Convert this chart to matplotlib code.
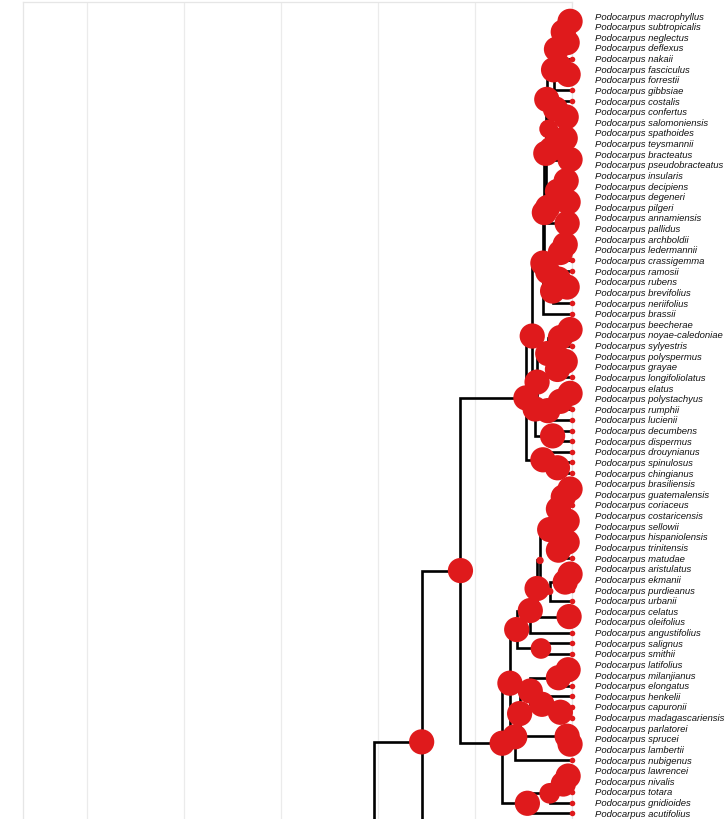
import matplotlib
matplotlib.use("Agg")
import matplotlib.pyplot as plt
from matplotlib.transforms import offset_copy

# tip order, top to bottom
tips = ["macrophyllus", "subtropicalis", "neglectus", "deflexus", "nakaii",
        "fasciculus", "forrestii", "gibbsiae", "costalis", "confertus",
        "salomoniensis", "spathoides", "teysmannii", "bracteatus",
        "pseudobracteatus", "insularis", "decipiens", "degeneri", "pilgeri",
        "annamiensis", "pallidus", "archboldii", "ledermannii", "crassigemma",
        "ramosii", "rubens", "brevifolius", "neriifolius", "brassii",
        "beecherae", "noyae-caledoniae", "sylyestris", "polyspermus", "grayae",
        "longifoliolatus", "elatus", "polystachyus", "rumphii", "lucienii",
        "decumbens", "dispermus", "drouynianus", "spinulosus", "chingianus",
        "brasiliensis", "guatemalensis", "coriaceus", "costaricensis",
        "sellowii", "hispaniolensis", "trinitensis", "matudae", "aristulatus",
        "ekmanii", "purdieanus", "urbanii", "celatus", "oleifolius",
        "angustifolius", "salignus", "smithii", "latifolius", "milanjianus",
        "elongatus", "henkelii", "capuronii", "madagascariensis", "parlatorei",
        "sprucei", "lambertii", "nubigenus", "lawrencei", "nivalis", "totara",
        "gnidioides", "acutifolius"]

# rest of the tree lies below the frame (row positions of those clades)
cut_rows = {"below_a": 84.4, "below_b": 100.0}

# clades (children), listed children-first
clade_kids = {
    "a01": ["macrophyllus", "subtropicalis"],
    "a23": ["neglectus", "deflexus"],
    "aA": ["a01", "a23"],
    "a56": ["fasciculus", "forrestii"],
    "aB": ["nakaii", "a56"],
    "a0_6": ["aA", "aB"],
    "a0_7": ["a0_6", "gibbsiae"],
    "a9_10": ["confertus", "salomoniensis"],
    "a8_10": ["costalis", "a9_10"],
    "a11_12": ["spathoides", "teysmannii"],
    "a13_14": ["bracteatus", "pseudobracteatus"],
    "a11_14": ["a11_12", "a13_14"],
    "a8_14": ["a8_10", "a11_14"],
    "a0_14": ["a0_7", "a8_14"],
    "a15_16": ["insularis", "decipiens"],
    "a17_18": ["degeneri", "pilgeri"],
    "a15_18": ["a15_16", "a17_18"],
    "a19_20": ["annamiensis", "pallidus"],
    "a15_20": ["a15_18", "a19_20"],
    "a0_20": ["a0_14", "a15_20"],
    "a21_22": ["archboldii", "ledermannii"],
    "a21_23": ["a21_22", "crassigemma"],
    "a25_26": ["rubens", "brevifolius"],
    "a24_26": ["ramosii", "a25_26"],
    "a24_27": ["a24_26", "neriifolius"],
    "a21_27": ["a21_23", "a24_27"],
    "aZ": ["a0_20", "a21_27"],
    "S1": ["aZ", "brassii"],
    "b29_30": ["beecherae", "noyae-caledoniae"],
    "b29_31": ["b29_30", "sylyestris"],
    "b32_33": ["polyspermus", "grayae"],
    "b32_34": ["b32_33", "longifoliolatus"],
    "b29_34": ["b29_31", "b32_34"],
    "b35_36": ["elatus", "polystachyus"],
    "b35_37": ["b35_36", "rumphii"],
    "b35_38": ["b35_37", "lucienii"],
    "b29_38": ["b29_34", "b35_38"],
    "b39_40": ["decumbens", "dispermus"],
    "b29_40": ["b29_38", "b39_40"],
    "N338": ["S1", "b29_40"],
    "b42_43": ["spinulosus", "chingianus"],
    "b41_43": ["drouynianus", "b42_43"],
    "N402": ["N338", "b41_43"],
    "c44_45": ["brasiliensis", "guatemalensis"],
    "c44_46": ["c44_45", "coriaceus"],
    "c47_48": ["costaricensis", "sellowii"],
    "c44_48": ["c44_46", "c47_48"],
    "c49_50": ["hispaniolensis", "trinitensis"],
    "c49_51": ["c49_50", "matudae"],
    "c44_51": ["c44_48", "c49_51"],
    "c52_53": ["aristulatus", "ekmanii"],
    "c52_54": ["c52_53", "purdieanus"],
    "c52_55": ["c52_54", "urbanii"],
    "c44_55": ["c44_51", "c52_55"],
    "c56_57": ["celatus", "oleifolius"],
    "c44_57": ["c44_55", "c56_57"],
    "c44_58": ["c44_57", "angustifolius"],
    "c59_60": ["salignus", "smithii"],
    "c44_60": ["c44_58", "c59_60"],
    "c61_62": ["latifolius", "milanjianus"],
    "c61_63": ["c61_62", "elongatus"],
    "c65_66": ["capuronii", "madagascariensis"],
    "c64_66": ["henkelii", "c65_66"],
    "c61_66": ["c61_63", "c64_66"],
    "c68_69": ["sprucei", "lambertii"],
    "c67_69": ["parlatorei", "c68_69"],
    "c61_69": ["c61_66", "c67_69"],
    "c61_70": ["c61_69", "nubigenus"],
    "c44_70": ["c44_60", "c61_70"],
    "d71_72": ["lawrencei", "nivalis"],
    "d71_73": ["d71_72", "totara"],
    "d71_74": ["d71_73", "gnidioides"],
    "d71_75": ["d71_74", "acutifolius"],
    "N743": ["c44_70", "d71_75"],
    "N573": ["N402", "N743"],
    "N422": ["N573", "below_a"],
    "N374": ["N422", "below_b"],
}

# node ages (Ma)
clade_age = {
    "a01": 0.2, "a23": 0.5, "aA": 0.9, "a56": 0.4, "aB": 1.3, "a0_6": 1.6,
    "a0_7": 1.9, "a9_10": 0.6, "a8_10": 1.7, "a11_12": 0.7, "a13_14": 0.2,
    "a11_14": 2.1, "a8_14": 2.4, "a0_14": 2.6, "a15_16": 0.6, "a17_18": 0.4,
    "a15_18": 1.5, "a19_20": 0.5, "a15_20": 2.5, "a0_20": 2.7,
    "a21_22": 0.7, "a21_23": 1.2, "a25_26": 0.5, "a24_26": 1.4,
    "a24_27": 2.0, "a21_27": 2.5, "aZ": 2.85, "S1": 3.0,
    "b29_30": 0.2, "b29_31": 1.2, "b32_33": 0.7, "b32_34": 1.5,
    "b29_34": 2.5, "b35_36": 0.2, "b35_37": 1.2, "b35_38": 2.5,
    "b29_38": 3.6, "b39_40": 2.0, "b29_40": 3.8, "N338": 4.1,
    "b42_43": 1.5, "b41_43": 3.0, "N402": 4.75,
    "c44_45": 0.2, "c44_46": 0.9, "c47_48": 0.5, "c44_48": 1.4,
    "c49_50": 0.5, "c49_51": 1.4, "c44_51": 2.3, "c52_53": 0.2,
    "c52_54": 0.7, "c52_55": 2.3, "c44_55": 3.3, "c56_57": 0.3,
    "c44_57": 3.6, "c44_58": 4.3, "c59_60": 3.2, "c44_60": 5.7,
    "c61_62": 0.4, "c61_63": 1.4, "c65_66": 1.2, "c64_66": 3.1,
    "c61_66": 4.3, "c68_69": 0.2, "c67_69": 0.5, "c61_69": 5.4,
    "c61_70": 5.9, "c44_70": 6.4, "d71_72": 0.4, "d71_73": 0.9,
    "d71_74": 2.3, "d71_75": 4.6, "N743": 7.2, "N573": 11.5,
    "N422": 15.5, "N374": 20.4,
}

# posterior support (1 unless listed)
clade_pp = {"c44_55": 0.55, "c52_55": 0.55, "a8_14": 0.9, "d71_74": 0.93,
            "c59_60": 0.93, "N374": 1.0}

RED = "#df1a1c"

fig = plt.figure(figsize=(7.25, 8.2), dpi=100)
ax = fig.add_axes([23 / 725, 0, (572 - 23) / 725, 1 - 3 / 820])

# coordinates
xs, ys = {}, {}
for i, t in enumerate(tips):
    xs[t], ys[t] = 0.0, float(i)
for t, r in cut_rows.items():
    xs[t], ys[t] = 0.0, r
for c, kids in clade_kids.items():
    xs[c] = -clade_age[c]
    ys[c] = sum(ys[k] for k in kids) / len(kids)

# branches
for c, kids in clade_kids.items():
    for k in kids:
        ax.plot([xs[c], xs[c], xs[k]], [ys[c], ys[k], ys[k]], color="black",
                lw=1.9, solid_joinstyle="miter", solid_capstyle="projecting",
                zorder=2)

# tip dots
ax.scatter([0] * len(tips), range(len(tips)), s=16, color=RED, zorder=3,
           clip_on=False, linewidths=0)

# node circles, size by support
names = list(clade_kids.keys())
sizes = [20 + 310 * clade_pp.get(c, 1.0) ** 6 for c in names]
ax.scatter([xs[c] for c in names], [ys[c] for c in names], s=sizes,
           color=RED, zorder=4, clip_on=False, linewidths=0)

lab = offset_copy(ax.transData, fig=fig, x=16.5, y=0, units="points")
for i, t in enumerate(tips):
    ax.text(0, i, "Podocarpus " + t, transform=lab, fontsize=6.8,
            fontstyle="italic", family=["Liberation Sans", "DejaVu Sans"],
            va="center", ha="left", color="#111111", clip_on=False)

ax.set_xlim(-56.6, 0)
ax.set_ylim((820 - 17) / 10.63, (3 - 17) / 10.63)
ax.set_xticks([-50, -40, -30, -20, -10, 0])
ax.set_yticks([])
ax.tick_params(length=0, labelbottom=False)
ax.grid(axis="x", color="#ebebeb", lw=0.9, zorder=0)
ax.set_axisbelow(True)
for s in ["top", "left", "right"]:
    ax.spines[s].set_color("#e6e6e6")
    ax.spines[s].set_linewidth(0.9)
ax.spines["bottom"].set_visible(False)

fig.savefig("out.png", dpi=100)
